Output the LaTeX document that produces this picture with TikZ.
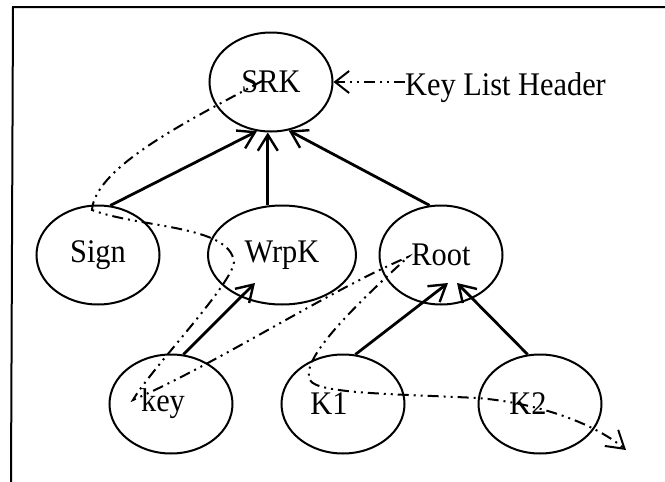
\documentclass[tikz,border=0pt]{standalone}
\usepackage{fontspec}
\setmainfont[FakeStretch=0.92]{Liberation Serif}
\usetikzlibrary{shapes.geometric,arrows.meta,calc}
\begin{document}
\begin{tikzpicture}[x=1pt,y=-1pt,
  every node/.style={font=\fontsize{33}{33}\selectfont},
  keynode/.style={draw,ellipse,line width=2pt,minimum width=123pt,minimum height=99pt,inner sep=0pt},
  solidarrow/.style={line width=2.8pt,-{Straight Barb[length=16pt,width=20pt,line width=2.4pt]}},
  ddline/.style={line width=2pt,dash pattern=on 11pt off 5pt on 2pt off 5pt on 2pt off 5pt},
  ]
\useasboundingbox (0,0) rectangle (665,482);
\draw[line width=2pt] (665,7) -- (13,7) -- (11,482);

\node[keynode] (SRK) at (271,82) {SRK};
\node[keynode] (Sign) at (98,255) {Sign};
\node[keynode,minimum width=148pt] (WrpK) at (282,255) {WrpK};
\node[keynode] (Root) at (441,255) {Root};
\node[keynode] (key) at (171,404) {key\hspace*{16pt}};
\node[keynode] (K1) at (343,404) {K1\hspace*{28pt}};
\node[keynode] (K2) at (540,404) {K2\hspace*{24pt}};
\node[anchor=base west,inner sep=0pt] (hdr) at (405,95) {Key List Header};

\draw[solidarrow] (Sign.76) -- (SRK.254);
\draw[solidarrow] (WrpK.106) -- (WrpK.106 |- SRK.south);
\draw[solidarrow] (Root.103) -- (SRK.290);
\draw[solidarrow] (key.76) -- ($(WrpK.center)+(-27,28)$);
\draw[solidarrow] (K1.76) -- ($(Root.center)+(7,28)$);
\draw[solidarrow] (K2.104) -- ($(Root.center)+(16,28)$);

\draw[ddline,-{Straight Barb[length=14pt,width=22pt,line width=2pt]}] (SRK.east -| hdr.west) -- (SRK.east);

\coordinate (p0) at (262,81);
\coordinate (p1) at (92,210);
\coordinate (p2) at (234,262);
\coordinate (p3) at (133,400);
\coordinate (p4) at (408,257);
\coordinate (p5) at (310,380);
\coordinate (p6) at (477,398);
\coordinate (pend) at (626,450);
\draw[ddline,-{Straight Barb[length=17pt,width=21pt,line width=2pt]}]
 (p0) .. controls (200,115) and (95,165) .. (p1)
 .. controls (140,228) and (230,225) .. (p2)
 .. controls (232,285) and (150,370) .. (p3)
 .. controls (220,362) and (330,290) .. (p4)
 .. controls (350,310) and (300,360) .. (p5)
 .. controls (316,394) and (400,394) .. (p6)
 .. controls (530,402) and (590,420) .. (pend);
\end{tikzpicture}
\end{document}
